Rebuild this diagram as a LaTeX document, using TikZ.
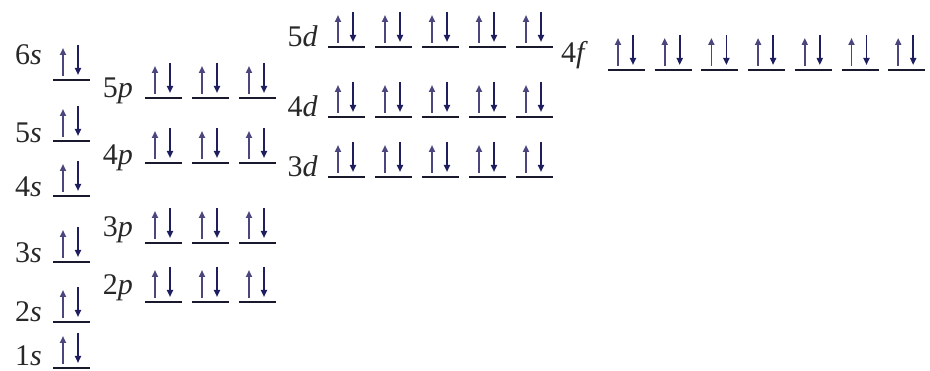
\documentclass[tikz,border=0pt]{standalone}
\usepackage{fontspec}
\setmainfont{Liberation Serif}
\usetikzlibrary{arrows.meta}
\definecolor{levelcol}{RGB}{25,25,45}
\definecolor{labelcol}{RGB}{40,40,40}
\definecolor{upcol}{RGB}{75,70,125}
\definecolor{downcol}{RGB}{30,30,95}
% one orbital: #1 left end, #2 height of its line
\newcommand{\orbital}[2]{%
  \draw[level] (#1,#2) -- ++(37,0);
  \draw[spinup] (#1+10,#2-4) -- ++(0,-28);
  \draw[spindown] (#1+25,#2-35) -- ++(0,30);
}
\begin{document}
\begin{tikzpicture}[x=1pt,y=-1pt,
  level/.style={line width=2.4pt, draw=levelcol},
  spinup/.style={line width=1.8pt, draw=upcol, -{Triangle[width=6pt,length=7pt]}},
  spindown/.style={line width=1.8pt, draw=downcol, -{Triangle[width=6pt,length=7pt]}},
  orblabel/.style={anchor=base east, inner sep=0pt, text=labelcol, font=\fontsize{30}{34}\selectfont}]
  \useasboundingbox (0,0) rectangle (930,371);
  % s levels
  \foreach \n/\y/\ly in {6/80/65, 5/141/143, 4/196/197, 3/262/263, 2/322/322, 1/368/366} {
    \node[orblabel] (s\n) at (42,\ly) {\n\textit{s}};
    \orbital{53}{\y}
  }
  % p levels
  \foreach \n/\y/\ly in {5/98/98, 4/163/165, 3/243/237, 2/302/295} {
    \node[orblabel] (p\n) at (133,\ly) {\n\textit{p}};
    \foreach \k in {0,1,2} {\orbital{145+47*\k}{\y}}
  }
  % d levels
  \foreach \n/\y in {5/47, 4/117, 3/177} {
    \node[orblabel] (d\n) at (318,\y) {\n\textit{d}};
    \foreach \k in {0,...,4} {\orbital{328+47*\k}{\y}}
  }
  % f level
  \node[orblabel] (f4) at (588,63) {4\textit{f}};
  \foreach \k in {0,...,6} {\orbital{608+46.7*\k}{70}}
\end{tikzpicture}
\end{document}
